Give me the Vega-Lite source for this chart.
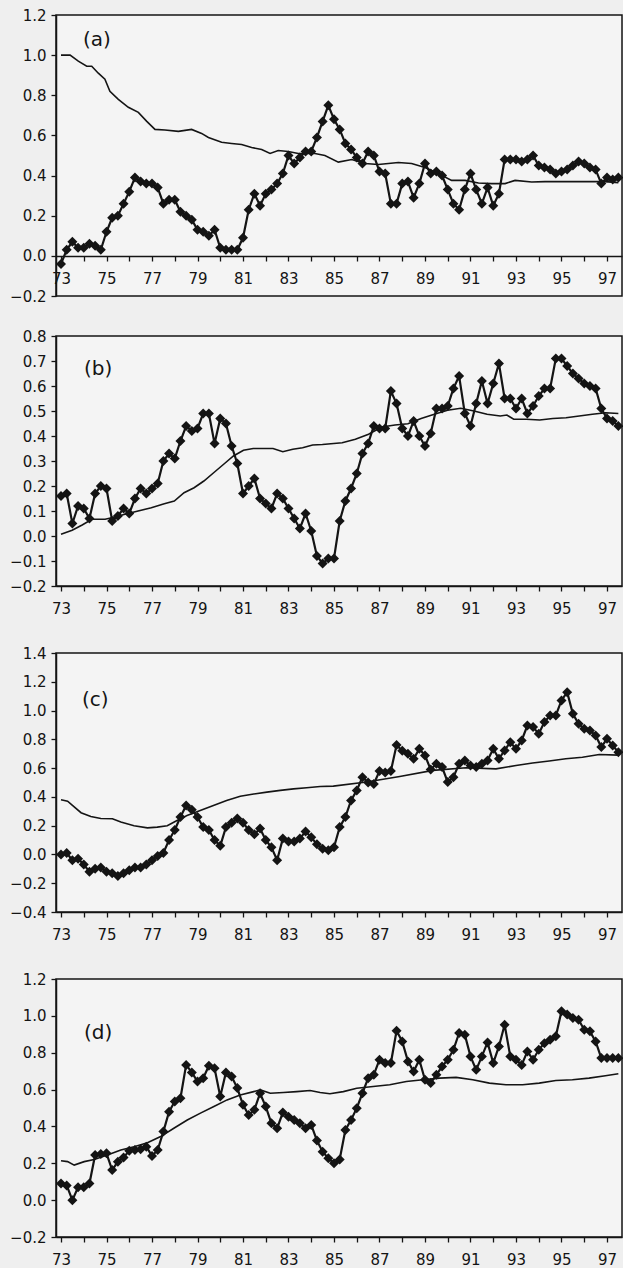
{
"$schema": "https://vega.github.io/schema/vega-lite/v6.json",
"background": "#efefef",
"padding": {"left": 8, "top": 7, "right": 0, "bottom": 0},
"spacing": 28,
"config": {
 "view": {"fill": "#f4f4f4", "stroke": "#141414", "strokeWidth": 1.5},
 "axis": {"labelFont": "DejaVu Sans", "labelFontSize": 15, "labelColor": "#141414", "domainColor": "#141414", "tickColor": "#141414", "domainWidth": 1.5, "tickWidth": 1.3, "grid": false, "tickSize": 5, "labelFlush": false, "labelOverlap": false},
 "title": {"font": "DejaVu Sans", "fontSize": 20, "fontWeight": "normal", "color": "#141414", "anchor": "start", "frame": "group", "offset": 0, "baseline": "top"}
},
"datasets": {
 "a": [{"t":73,"v":-0.04},{"t":73.25,"v":0.03},{"t":73.5,"v":0.07},{"t":73.75,"v":0.04},{"t":74,"v":0.04},{"t":74.25,"v":0.06},{"t":74.5,"v":0.05},{"t":74.75,"v":0.03},{"t":75,"v":0.12},{"t":75.25,"v":0.19},{"t":75.5,"v":0.2},{"t":75.75,"v":0.26},{"t":76,"v":0.32},{"t":76.25,"v":0.39},{"t":76.5,"v":0.37},{"t":76.75,"v":0.36},{"t":77,"v":0.36},{"t":77.25,"v":0.34},{"t":77.5,"v":0.26},{"t":77.75,"v":0.28},{"t":78,"v":0.28},{"t":78.25,"v":0.22},{"t":78.5,"v":0.2},{"t":78.75,"v":0.18},{"t":79,"v":0.13},{"t":79.25,"v":0.12},{"t":79.5,"v":0.1},{"t":79.75,"v":0.13},{"t":80,"v":0.04},{"t":80.25,"v":0.03},{"t":80.5,"v":0.03},{"t":80.75,"v":0.03},{"t":81,"v":0.09},{"t":81.25,"v":0.23},{"t":81.5,"v":0.31},{"t":81.75,"v":0.25},{"t":82,"v":0.31},{"t":82.25,"v":0.33},{"t":82.5,"v":0.36},{"t":82.75,"v":0.41},{"t":83,"v":0.5},{"t":83.25,"v":0.46},{"t":83.5,"v":0.49},{"t":83.75,"v":0.52},{"t":84,"v":0.52},{"t":84.25,"v":0.59},{"t":84.5,"v":0.67},{"t":84.75,"v":0.75},{"t":85,"v":0.68},{"t":85.25,"v":0.63},{"t":85.5,"v":0.56},{"t":85.75,"v":0.53},{"t":86,"v":0.49},{"t":86.25,"v":0.46},{"t":86.5,"v":0.52},{"t":86.75,"v":0.5},{"t":87,"v":0.42},{"t":87.25,"v":0.41},{"t":87.5,"v":0.26},{"t":87.75,"v":0.26},{"t":88,"v":0.36},{"t":88.25,"v":0.37},{"t":88.5,"v":0.29},{"t":88.75,"v":0.36},{"t":89,"v":0.46},{"t":89.25,"v":0.41},{"t":89.5,"v":0.42},{"t":89.75,"v":0.4},{"t":90,"v":0.33},{"t":90.25,"v":0.26},{"t":90.5,"v":0.23},{"t":90.75,"v":0.33},{"t":91,"v":0.41},{"t":91.25,"v":0.33},{"t":91.5,"v":0.26},{"t":91.75,"v":0.34},{"t":92,"v":0.25},{"t":92.25,"v":0.31},{"t":92.5,"v":0.48},{"t":92.75,"v":0.48},{"t":93,"v":0.48},{"t":93.25,"v":0.47},{"t":93.5,"v":0.48},{"t":93.75,"v":0.5},{"t":94,"v":0.45},{"t":94.25,"v":0.44},{"t":94.5,"v":0.43},{"t":94.75,"v":0.41},{"t":95,"v":0.42},{"t":95.25,"v":0.43},{"t":95.5,"v":0.45},{"t":95.75,"v":0.47},{"t":96,"v":0.46},{"t":96.25,"v":0.44},{"t":96.5,"v":0.43},{"t":96.75,"v":0.36},{"t":97,"v":0.39},{"t":97.25,"v":0.38},{"t":97.5,"v":0.39}],
 "as": [{"t":73,"v":1.0},{"t":73.4,"v":1.0},{"t":73.76,"v":0.97},{"t":74.13,"v":0.945},{"t":74.35,"v":0.945},{"t":74.64,"v":0.91},{"t":74.93,"v":0.88},{"t":75.15,"v":0.82},{"t":75.52,"v":0.78},{"t":75.96,"v":0.74},{"t":76.4,"v":0.715},{"t":76.77,"v":0.67},{"t":77.13,"v":0.63},{"t":77.57,"v":0.627},{"t":78.16,"v":0.62},{"t":78.74,"v":0.63},{"t":79.18,"v":0.61},{"t":79.48,"v":0.59},{"t":80.06,"v":0.566},{"t":80.5,"v":0.56},{"t":80.94,"v":0.555},{"t":81.38,"v":0.54},{"t":81.82,"v":0.53},{"t":82.19,"v":0.51},{"t":82.55,"v":0.525},{"t":82.99,"v":0.52},{"t":83.43,"v":0.51},{"t":83.87,"v":0.51},{"t":84.16,"v":0.51},{"t":84.6,"v":0.5},{"t":85.19,"v":0.467},{"t":85.78,"v":0.48},{"t":86.36,"v":0.46},{"t":86.95,"v":0.455},{"t":87.83,"v":0.465},{"t":88.41,"v":0.46},{"t":89.0,"v":0.44},{"t":89.58,"v":0.41},{"t":90.17,"v":0.376},{"t":90.76,"v":0.376},{"t":91.35,"v":0.363},{"t":91.93,"v":0.36},{"t":92.52,"v":0.36},{"t":92.96,"v":0.376},{"t":93.69,"v":0.368},{"t":94.28,"v":0.37},{"t":95.15,"v":0.37},{"t":96.03,"v":0.37},{"t":96.91,"v":0.37},{"t":97.5,"v":0.365}],
 "b": [{"t":73,"v":0.16},{"t":73.25,"v":0.17},{"t":73.5,"v":0.05},{"t":73.75,"v":0.12},{"t":74,"v":0.11},{"t":74.25,"v":0.07},{"t":74.5,"v":0.17},{"t":74.75,"v":0.2},{"t":75,"v":0.19},{"t":75.25,"v":0.06},{"t":75.5,"v":0.08},{"t":75.75,"v":0.11},{"t":76,"v":0.09},{"t":76.25,"v":0.15},{"t":76.5,"v":0.19},{"t":76.75,"v":0.17},{"t":77,"v":0.19},{"t":77.25,"v":0.21},{"t":77.5,"v":0.3},{"t":77.75,"v":0.33},{"t":78,"v":0.31},{"t":78.25,"v":0.38},{"t":78.5,"v":0.44},{"t":78.75,"v":0.42},{"t":79,"v":0.43},{"t":79.25,"v":0.49},{"t":79.5,"v":0.49},{"t":79.75,"v":0.37},{"t":80,"v":0.47},{"t":80.25,"v":0.45},{"t":80.5,"v":0.36},{"t":80.75,"v":0.29},{"t":81,"v":0.17},{"t":81.25,"v":0.2},{"t":81.5,"v":0.23},{"t":81.75,"v":0.15},{"t":82,"v":0.13},{"t":82.25,"v":0.11},{"t":82.5,"v":0.17},{"t":82.75,"v":0.15},{"t":83,"v":0.11},{"t":83.25,"v":0.07},{"t":83.5,"v":0.03},{"t":83.75,"v":0.09},{"t":84,"v":0.02},{"t":84.25,"v":-0.08},{"t":84.5,"v":-0.11},{"t":84.75,"v":-0.09},{"t":85,"v":-0.09},{"t":85.25,"v":0.06},{"t":85.5,"v":0.14},{"t":85.75,"v":0.19},{"t":86,"v":0.25},{"t":86.25,"v":0.33},{"t":86.5,"v":0.37},{"t":86.75,"v":0.44},{"t":87,"v":0.43},{"t":87.25,"v":0.43},{"t":87.5,"v":0.58},{"t":87.75,"v":0.53},{"t":88,"v":0.43},{"t":88.25,"v":0.4},{"t":88.5,"v":0.46},{"t":88.75,"v":0.4},{"t":89,"v":0.36},{"t":89.25,"v":0.41},{"t":89.5,"v":0.51},{"t":89.75,"v":0.51},{"t":90,"v":0.52},{"t":90.25,"v":0.59},{"t":90.5,"v":0.64},{"t":90.75,"v":0.49},{"t":91,"v":0.44},{"t":91.25,"v":0.53},{"t":91.5,"v":0.62},{"t":91.75,"v":0.53},{"t":92,"v":0.61},{"t":92.25,"v":0.69},{"t":92.5,"v":0.55},{"t":92.75,"v":0.55},{"t":93,"v":0.51},{"t":93.25,"v":0.55},{"t":93.5,"v":0.49},{"t":93.75,"v":0.52},{"t":94,"v":0.56},{"t":94.25,"v":0.59},{"t":94.5,"v":0.59},{"t":94.75,"v":0.71},{"t":95,"v":0.71},{"t":95.25,"v":0.68},{"t":95.5,"v":0.65},{"t":95.75,"v":0.63},{"t":96,"v":0.61},{"t":96.25,"v":0.6},{"t":96.5,"v":0.59},{"t":96.75,"v":0.51},{"t":97,"v":0.47},{"t":97.25,"v":0.46},{"t":97.5,"v":0.44}],
 "bs": [{"t":73,"v":0.007},{"t":73.49,"v":0.023},{"t":73.93,"v":0.044},{"t":74.36,"v":0.067},{"t":74.94,"v":0.067},{"t":75.37,"v":0.076},{"t":75.81,"v":0.087},{"t":76.39,"v":0.1},{"t":76.97,"v":0.113},{"t":77.54,"v":0.129},{"t":77.98,"v":0.14},{"t":78.41,"v":0.173},{"t":78.85,"v":0.193},{"t":79.28,"v":0.22},{"t":79.71,"v":0.253},{"t":80.15,"v":0.287},{"t":80.58,"v":0.32},{"t":81.02,"v":0.343},{"t":81.45,"v":0.35},{"t":81.89,"v":0.35},{"t":82.32,"v":0.35},{"t":82.75,"v":0.337},{"t":83.19,"v":0.347},{"t":83.62,"v":0.353},{"t":84.06,"v":0.364},{"t":84.49,"v":0.366},{"t":85.36,"v":0.373},{"t":85.94,"v":0.387},{"t":86.52,"v":0.407},{"t":87.1,"v":0.436},{"t":87.68,"v":0.444},{"t":88.25,"v":0.449},{"t":88.83,"v":0.47},{"t":89.41,"v":0.487},{"t":89.99,"v":0.503},{"t":90.57,"v":0.511},{"t":91.15,"v":0.5},{"t":91.73,"v":0.487},{"t":92.31,"v":0.48},{"t":92.6,"v":0.484},{"t":92.9,"v":0.467},{"t":93.46,"v":0.467},{"t":94.04,"v":0.464},{"t":94.62,"v":0.47},{"t":95.2,"v":0.473},{"t":95.78,"v":0.48},{"t":96.36,"v":0.487},{"t":96.94,"v":0.493},{"t":97.5,"v":0.49}],
 "c": [{"t":73,"v":0.0},{"t":73.25,"v":0.01},{"t":73.5,"v":-0.04},{"t":73.75,"v":-0.03},{"t":74,"v":-0.07},{"t":74.25,"v":-0.12},{"t":74.5,"v":-0.1},{"t":74.75,"v":-0.09},{"t":75,"v":-0.12},{"t":75.25,"v":-0.13},{"t":75.5,"v":-0.15},{"t":75.75,"v":-0.13},{"t":76,"v":-0.11},{"t":76.25,"v":-0.09},{"t":76.5,"v":-0.09},{"t":76.75,"v":-0.07},{"t":77,"v":-0.04},{"t":77.25,"v":-0.01},{"t":77.5,"v":0.01},{"t":77.75,"v":0.1},{"t":78,"v":0.17},{"t":78.25,"v":0.26},{"t":78.5,"v":0.34},{"t":78.75,"v":0.31},{"t":79,"v":0.26},{"t":79.25,"v":0.19},{"t":79.5,"v":0.17},{"t":79.75,"v":0.1},{"t":80,"v":0.06},{"t":80.25,"v":0.19},{"t":80.5,"v":0.22},{"t":80.75,"v":0.25},{"t":81,"v":0.22},{"t":81.25,"v":0.17},{"t":81.5,"v":0.14},{"t":81.75,"v":0.18},{"t":82,"v":0.1},{"t":82.25,"v":0.05},{"t":82.5,"v":-0.04},{"t":82.75,"v":0.11},{"t":83,"v":0.09},{"t":83.25,"v":0.09},{"t":83.5,"v":0.11},{"t":83.75,"v":0.16},{"t":84,"v":0.12},{"t":84.25,"v":0.07},{"t":84.5,"v":0.04},{"t":84.75,"v":0.03},{"t":85,"v":0.05},{"t":85.25,"v":0.19},{"t":85.5,"v":0.26},{"t":85.75,"v":0.375},{"t":86,"v":0.445},{"t":86.25,"v":0.537},{"t":86.5,"v":0.5},{"t":86.75,"v":0.49},{"t":87,"v":0.58},{"t":87.25,"v":0.57},{"t":87.5,"v":0.58},{"t":87.75,"v":0.76},{"t":88,"v":0.72},{"t":88.25,"v":0.7},{"t":88.5,"v":0.665},{"t":88.75,"v":0.734},{"t":89,"v":0.688},{"t":89.25,"v":0.59},{"t":89.5,"v":0.63},{"t":89.75,"v":0.607},{"t":90,"v":0.503},{"t":90.25,"v":0.537},{"t":90.5,"v":0.63},{"t":90.75,"v":0.653},{"t":91,"v":0.618},{"t":91.25,"v":0.607},{"t":91.5,"v":0.63},{"t":91.75,"v":0.653},{"t":92,"v":0.734},{"t":92.25,"v":0.665},{"t":92.5,"v":0.723},{"t":92.75,"v":0.78},{"t":93,"v":0.734},{"t":93.25,"v":0.792},{"t":93.5,"v":0.896},{"t":93.75,"v":0.885},{"t":94,"v":0.839},{"t":94.25,"v":0.92},{"t":94.5,"v":0.966},{"t":94.75,"v":0.966},{"t":95,"v":1.07},{"t":95.25,"v":1.128},{"t":95.5,"v":0.978},{"t":95.75,"v":0.908},{"t":96,"v":0.873},{"t":96.25,"v":0.862},{"t":96.5,"v":0.827},{"t":96.75,"v":0.746},{"t":97,"v":0.804},{"t":97.25,"v":0.757},{"t":97.5,"v":0.711}],
 "cs": [{"t":73,"v":0.38},{"t":73.29,"v":0.37},{"t":73.58,"v":0.33},{"t":73.88,"v":0.29},{"t":74.31,"v":0.264},{"t":74.75,"v":0.25},{"t":75.26,"v":0.248},{"t":75.63,"v":0.225},{"t":76.21,"v":0.2},{"t":76.8,"v":0.185},{"t":77.23,"v":0.19},{"t":77.67,"v":0.2},{"t":78.1,"v":0.236},{"t":78.54,"v":0.27},{"t":79.12,"v":0.306},{"t":79.7,"v":0.34},{"t":80.28,"v":0.375},{"t":80.88,"v":0.405},{"t":81.47,"v":0.42},{"t":82.05,"v":0.433},{"t":82.64,"v":0.445},{"t":83.22,"v":0.456},{"t":83.8,"v":0.463},{"t":84.39,"v":0.472},{"t":84.97,"v":0.475},{"t":86.43,"v":0.503},{"t":87.89,"v":0.542},{"t":89.35,"v":0.584},{"t":90.81,"v":0.602},{"t":92.12,"v":0.595},{"t":93.0,"v":0.618},{"t":93.73,"v":0.635},{"t":94.46,"v":0.649},{"t":95.19,"v":0.665},{"t":95.92,"v":0.676},{"t":96.66,"v":0.695},{"t":97.5,"v":0.69}],
 "d": [{"t":73,"v":0.09},{"t":73.25,"v":0.08},{"t":73.5,"v":0.0},{"t":73.75,"v":0.07},{"t":74,"v":0.07},{"t":74.25,"v":0.09},{"t":74.5,"v":0.245},{"t":74.75,"v":0.25},{"t":75,"v":0.254},{"t":75.25,"v":0.163},{"t":75.5,"v":0.209},{"t":75.75,"v":0.232},{"t":76,"v":0.268},{"t":76.25,"v":0.272},{"t":76.5,"v":0.276},{"t":76.75,"v":0.29},{"t":77,"v":0.24},{"t":77.25,"v":0.272},{"t":77.5,"v":0.372},{"t":77.75,"v":0.48},{"t":78,"v":0.535},{"t":78.25,"v":0.553},{"t":78.5,"v":0.734},{"t":78.75,"v":0.693},{"t":79,"v":0.644},{"t":79.25,"v":0.662},{"t":79.5,"v":0.729},{"t":79.75,"v":0.716},{"t":80,"v":0.562},{"t":80.25,"v":0.693},{"t":80.5,"v":0.671},{"t":80.75,"v":0.608},{"t":81,"v":0.517},{"t":81.25,"v":0.462},{"t":81.5,"v":0.49},{"t":81.75,"v":0.58},{"t":82,"v":0.508},{"t":82.25,"v":0.417},{"t":82.5,"v":0.39},{"t":82.75,"v":0.475},{"t":83,"v":0.453},{"t":83.25,"v":0.435},{"t":83.5,"v":0.417},{"t":83.75,"v":0.39},{"t":84,"v":0.408},{"t":84.25,"v":0.323},{"t":84.5,"v":0.263},{"t":84.75,"v":0.227},{"t":85,"v":0.2},{"t":85.25,"v":0.221},{"t":85.5,"v":0.381},{"t":85.75,"v":0.435},{"t":86,"v":0.499},{"t":86.25,"v":0.58},{"t":86.5,"v":0.662},{"t":86.75,"v":0.68},{"t":87,"v":0.762},{"t":87.25,"v":0.744},{"t":87.5,"v":0.744},{"t":87.75,"v":0.919},{"t":88,"v":0.861},{"t":88.25,"v":0.753},{"t":88.5,"v":0.698},{"t":88.75,"v":0.762},{"t":89,"v":0.653},{"t":89.25,"v":0.635},{"t":89.5,"v":0.68},{"t":89.75,"v":0.725},{"t":90,"v":0.762},{"t":90.25,"v":0.816},{"t":90.5,"v":0.907},{"t":90.75,"v":0.898},{"t":91,"v":0.78},{"t":91.25,"v":0.707},{"t":91.5,"v":0.78},{"t":91.75,"v":0.856},{"t":92,"v":0.744},{"t":92.25,"v":0.834},{"t":92.5,"v":0.952},{"t":92.75,"v":0.78},{"t":93,"v":0.762},{"t":93.25,"v":0.734},{"t":93.5,"v":0.807},{"t":93.75,"v":0.762},{"t":94,"v":0.816},{"t":94.25,"v":0.852},{"t":94.5,"v":0.87},{"t":94.75,"v":0.889},{"t":95,"v":1.025},{"t":95.25,"v":1.007},{"t":95.5,"v":0.988},{"t":95.75,"v":0.979},{"t":96,"v":0.925},{"t":96.25,"v":0.916},{"t":96.5,"v":0.861},{"t":96.75,"v":0.771},{"t":97,"v":0.771},{"t":97.25,"v":0.771},{"t":97.5,"v":0.771}],
 "ds": [{"t":73,"v":0.214},{"t":73.29,"v":0.209},{"t":73.58,"v":0.19},{"t":74.02,"v":0.209},{"t":74.46,"v":0.221},{"t":75.04,"v":0.245},{"t":75.63,"v":0.272},{"t":76.21,"v":0.29},{"t":76.8,"v":0.312},{"t":77.38,"v":0.345},{"t":77.96,"v":0.39},{"t":78.55,"v":0.435},{"t":79.13,"v":0.472},{"t":79.72,"v":0.508},{"t":80.3,"v":0.544},{"t":80.88,"v":0.571},{"t":81.47,"v":0.589},{"t":81.76,"v":0.598},{"t":82.2,"v":0.58},{"t":82.78,"v":0.584},{"t":83.36,"v":0.589},{"t":83.95,"v":0.595},{"t":84.39,"v":0.584},{"t":84.82,"v":0.577},{"t":85.41,"v":0.589},{"t":86.0,"v":0.607},{"t":86.72,"v":0.617},{"t":87.45,"v":0.626},{"t":88.18,"v":0.644},{"t":88.91,"v":0.653},{"t":89.64,"v":0.662},{"t":90.37,"v":0.666},{"t":91.1,"v":0.653},{"t":91.83,"v":0.635},{"t":92.56,"v":0.626},{"t":93.29,"v":0.626},{"t":94.02,"v":0.635},{"t":94.75,"v":0.649},{"t":95.48,"v":0.653},{"t":96.21,"v":0.662},{"t":96.93,"v":0.675},{"t":97.5,"v":0.686}]
},
"vconcat": [
 {"spacing": 23, "vconcat": [
 {"width": 566, "height": 281, "title": {"text": "(a)", "dx": 27, "dy": 46},
  "encoding": {
   "x": {"field": "t", "type": "quantitative", "title": null, "scale": {"domain": [72.78, 97.66], "nice": false, "zero": false}, "axis": {"values": [73,74,75,76,77,78,79,80,81,82,83,84,85,86,87,88,89,90,91,92,93,94,95,96,97], "labelExpr": "datum.value % 2 == 1 ? datum.label : ''", "labelPadding": 10, "labelOverlap": false, "offset": -40}},
   "y": {"field": "v", "type": "quantitative", "title": null, "scale": {"domain": [-0.2, 1.2], "nice": false, "zero": false}, "axis": {"values": [-0.2,0,0.2,0.4,0.6,0.8,1.0,1.2], "format": ".1f", "labelPadding": 5, "labelOverlap": false}}},
  "layer": [
   {"data": {"name": "as"}, "mark": {"type": "line", "color": "#141414", "strokeWidth": 1.6}},
   {"data": {"name": "a"}, "mark": {"type": "line", "color": "#141414", "strokeWidth": 2.2, "point": {"shape": "diamond", "size": 100, "filled": true, "color": "#141414"}}}
  ]},
 {"width": 566, "height": 250, "title": {"text": "(b)", "dx": 28, "dy": 54},
  "encoding": {
   "x": {"field": "t", "type": "quantitative", "title": null, "scale": {"domain": [72.78, 97.66], "nice": false, "zero": false}, "axis": {"values": [73,74,75,76,77,78,79,80,81,82,83,84,85,86,87,88,89,90,91,92,93,94,95,96,97], "labelExpr": "datum.value % 2 == 1 ? datum.label : ''", "labelPadding": 10, "labelOverlap": false}},
   "y": {"field": "v", "type": "quantitative", "title": null, "scale": {"domain": [-0.2, 0.8], "nice": false, "zero": false}, "axis": {"values": [-0.2,-0.1,0,0.1,0.2,0.3,0.4,0.5,0.6,0.7,0.8], "format": ".1f", "labelPadding": 5, "labelOverlap": false}}},
  "layer": [
   {"data": {"name": "bs"}, "mark": {"type": "line", "color": "#141414", "strokeWidth": 1.6}},
   {"data": {"name": "b"}, "mark": {"type": "line", "color": "#141414", "strokeWidth": 2.2, "point": {"shape": "diamond", "size": 100, "filled": true, "color": "#141414"}}}
  ]}
 ]},
 {"width": 566, "height": 259, "title": {"text": "(c)", "dx": 26, "dy": 68},
  "encoding": {
   "x": {"field": "t", "type": "quantitative", "title": null, "scale": {"domain": [72.78, 97.66], "nice": false, "zero": false}, "axis": {"values": [73,74,75,76,77,78,79,80,81,82,83,84,85,86,87,88,89,90,91,92,93,94,95,96,97], "labelExpr": "datum.value % 2 == 1 ? datum.label : ''", "labelPadding": 10, "labelOverlap": false}},
   "y": {"field": "v", "type": "quantitative", "title": null, "scale": {"domain": [-0.4, 1.4], "nice": false, "zero": false}, "axis": {"values": [-0.4,-0.2,0,0.2,0.4,0.6,0.8,1.0,1.2,1.4], "format": ".1f", "labelPadding": 5, "labelOverlap": false}}},
  "layer": [
   {"data": {"name": "cs"}, "mark": {"type": "line", "color": "#141414", "strokeWidth": 1.6}},
   {"data": {"name": "c"}, "mark": {"type": "line", "color": "#141414", "strokeWidth": 2.2, "point": {"shape": "diamond", "size": 100, "filled": true, "color": "#141414"}}}
  ]},
 {"width": 566, "height": 258, "title": {"text": "(d)", "dx": 28, "dy": 75},
  "encoding": {
   "x": {"field": "t", "type": "quantitative", "title": null, "scale": {"domain": [72.78, 97.66], "nice": false, "zero": false}, "axis": {"values": [73,74,75,76,77,78,79,80,81,82,83,84,85,86,87,88,89,90,91,92,93,94,95,96,97], "labelExpr": "datum.value % 2 == 1 ? datum.label : ''", "labelPadding": 10, "labelOverlap": false}},
   "y": {"field": "v", "type": "quantitative", "title": null, "scale": {"domain": [-0.2, 1.2], "nice": false, "zero": false}, "axis": {"values": [-0.2,0,0.2,0.4,0.6,0.8,1.0,1.2], "format": ".1f", "labelPadding": 5, "labelOverlap": false}}},
  "layer": [
   {"data": {"name": "ds"}, "mark": {"type": "line", "color": "#141414", "strokeWidth": 1.6}},
   {"data": {"name": "d"}, "mark": {"type": "line", "color": "#141414", "strokeWidth": 2.2, "point": {"shape": "diamond", "size": 100, "filled": true, "color": "#141414"}}}
  ]}
]
}
